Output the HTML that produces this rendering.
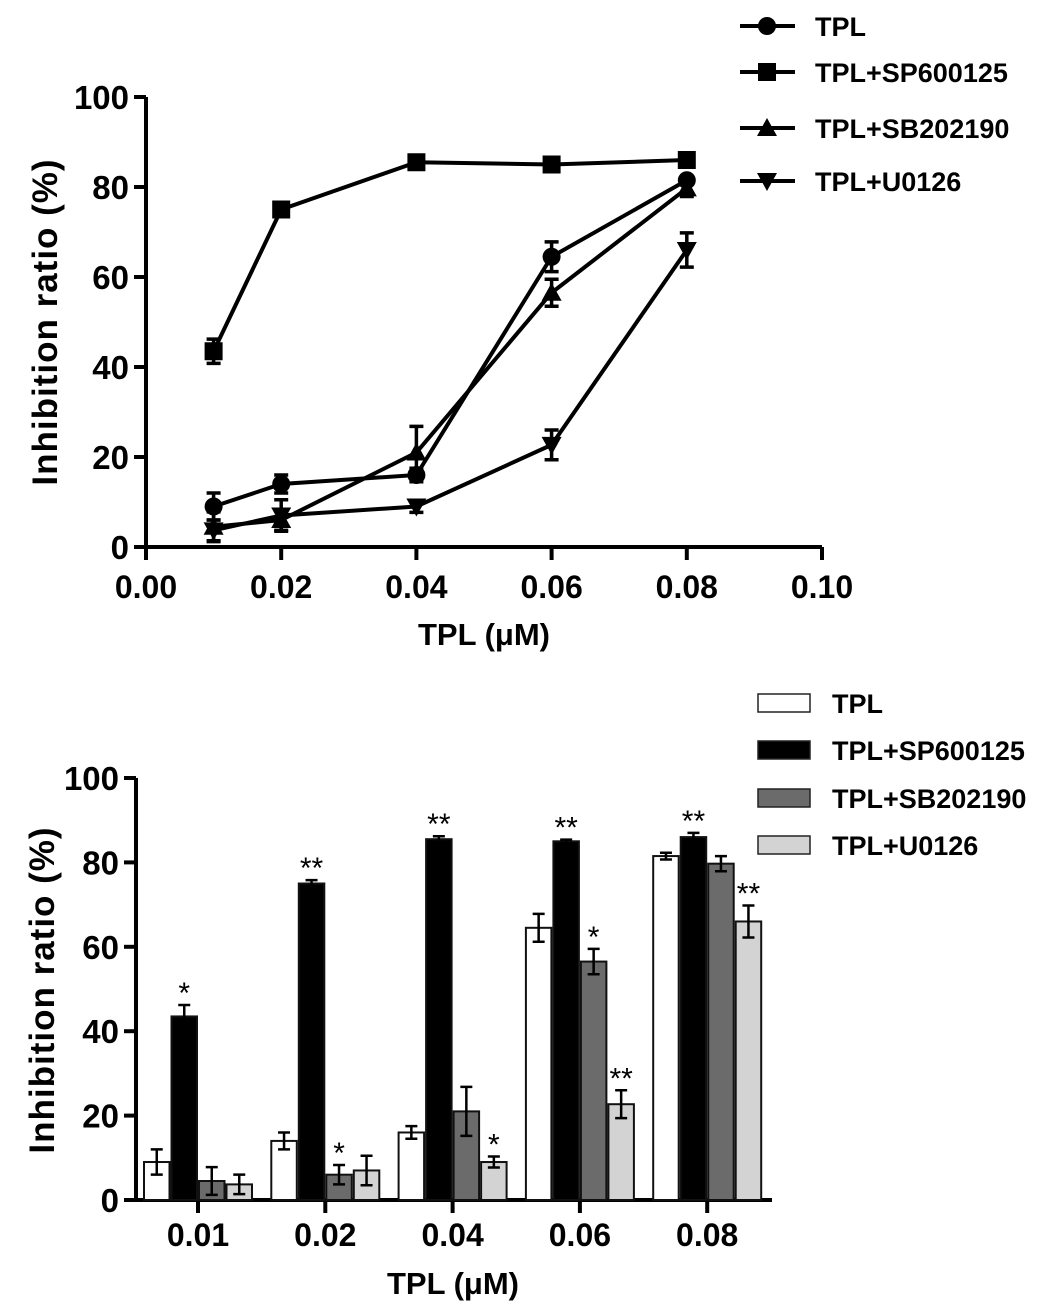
<!DOCTYPE html>
<html><head><meta charset="utf-8"><style>
html,body{margin:0;padding:0;background:#fff;}
svg{display:block;font-family:"Liberation Sans",sans-serif;font-weight:bold;}
</style></head><body>
<svg width="1063" height="1312" viewBox="0 0 1063 1312">
<g id="topChart"></g>
<g id="botChart"></g>
</svg>
<script>
const doses = [0.01, 0.02, 0.04, 0.06, 0.08];
const doseLabels = ["0.01","0.02","0.04","0.06","0.08"];
const seriesNames = ["TPL","TPL+SP600125","TPL+SB202190","TPL+U0126"];
const tplVals = [9, 14, 16, 64.5, 81.5];
const tplErr = [3, 2, 1.5, 3.3, 0.8];
const spVals = [43.5, 75, 85.5, 85, 86];
const spErr = [2.7, 0.8, 0.7, 0.4, 1];
const sbVals = [4.5, 6, 21, 56.5, 79.7];
const sbErr = [3.3, 2.3, 5.8, 3, 1.8];
const uVals = [3.7, 7, 9, 22.7, 66];
const uErr = [2.3, 3.5, 1.3, 3.3, 3.8];
const spStars = ["*","**","**","**","**"];
const sbStars = ["","*","","*",""];
const uStars = ["","","*","**","**"];
const yTicks = [0,20,40,60,80,100];
const xTicksTop = [0,0.02,0.04,0.06,0.08,0.10];
const xTickLabelsTop = ["0.00","0.02","0.04","0.06","0.08","0.10"];

const NS="http://www.w3.org/2000/svg";
function mk(parent,tag,attrs,text){const e=document.createElementNS(NS,tag);for(const k in attrs)e.setAttribute(k,attrs[k]);if(text!==undefined)e.textContent=text;parent.appendChild(e);return e;}

const vals=[tplVals,spVals,sbVals,uVals], errs=[tplErr,spErr,sbErr,uErr];

// ---- TOP line chart
const gTop=document.getElementById('topChart');
const tx=v=>146+(v/0.10)*(822-146);
const ty=v=>547-(v/100)*(547-97);
let ax=mk(gTop,'path',{d:`M146,97 L146,547 L822,547`,stroke:'#000','stroke-width':4,fill:'none'});


yTicks.forEach(t=>{
  mk(gTop,'line',{x1:134,x2:146,y1:ty(t),y2:ty(t),stroke:'#000','stroke-width':4});
  const l=mk(gTop,'text',{x:129,y:ty(t)+12,'text-anchor':'end','font-size':33},t);
  
  
});
xTicksTop.forEach((t,i)=>{
  mk(gTop,'line',{x1:tx(t),x2:tx(t),y1:547,y2:560,stroke:'#000','stroke-width':4});
  const l=mk(gTop,'text',{x:tx(t),y:598,'text-anchor':'middle','font-size':32},xTickLabelsTop[i]);
  
  
});
let t1=mk(gTop,'text',{x:484,y:645,'text-anchor':'middle','font-size':31},'TPL (μM)');


let t2=mk(gTop,'text',{x:0,y:0,'text-anchor':'middle','font-size':35,transform:'translate(57,322) rotate(-90)','letter-spacing':'1'},'Inhibition  ratio (%)');



function marker(g,k,x,y){
  if(k===0) return mk(g,'circle',{cx:x,cy:y,r:9,fill:'#000'});
  if(k===1) return mk(g,'rect',{x:x-9,y:y-9,width:18,height:18,fill:'#000'});
  if(k===2) return mk(g,'path',{d:`M${x},${y-10} L${x+10},${y+8} L${x-10},${y+8}Z`,fill:'#000'});
  return mk(g,'path',{d:`M${x},${y+10} L${x+10},${y-8} L${x-10},${y-8}Z`,fill:'#000'});
}
vals.forEach((vs,k)=>{
  const g=mk(gTop,'g',{});
  
  
  mk(g,'polyline',{points:vs.map((v,i)=>tx(doses[i])+','+ty(v)).join(' '),fill:'none',stroke:'#000','stroke-width':4});
  vs.forEach((v,i)=>{
    const x=tx(doses[i]),e=errs[k][i];
    mk(g,'path',{d:`M${x},${ty(v+e)} V${ty(v-e)} M${x-7},${ty(v+e)} H${x+7} M${x-7},${ty(v-e)} H${x+7}`,stroke:'#000','stroke-width':3.5,fill:'none'});
    const m=marker(g,k,x,ty(v));
    
    
  });
});
const legY=[26,72,128,181];
seriesNames.forEach((n,k)=>{
  const g=mk(gTop,'g',{});
  
  
  mk(g,'line',{x1:740,x2:795,y1:legY[k],y2:legY[k],stroke:'#000','stroke-width':4});
  marker(g,k,767,legY[k]);
  mk(g,'text',{x:815,y:legY[k]+10,'font-size':27},n);
});

// ---- BOTTOM bar chart
const gBot=document.getElementById('botChart');
const by=v=>1200-(v/100)*(1200-778);
const gx=i=>198+i*127.3;
const bw=27.5;
const fills=['#fff','#000','#6b6b6b','#d3d3d3'];
let ax2=mk(gBot,'path',{d:`M136,778 L136,1200 L772,1200`,stroke:'#000','stroke-width':4,fill:'none'});


yTicks.forEach(t=>{
  mk(gBot,'line',{x1:124,x2:136,y1:by(t),y2:by(t),stroke:'#000','stroke-width':4});
  const l=mk(gBot,'text',{x:119,y:by(t)+12,'text-anchor':'end','font-size':33},t);
  
  
});
doseLabels.forEach((d,i)=>{
  mk(gBot,'line',{x1:gx(i),x2:gx(i),y1:1200,y2:1213,stroke:'#000','stroke-width':4});
  const l=mk(gBot,'text',{x:gx(i),y:1246,'text-anchor':'middle','font-size':32},d);
  
  
});
let t3=mk(gBot,'text',{x:453,y:1294,'text-anchor':'middle','font-size':31},'TPL (μM)');


let t4=mk(gBot,'text',{x:0,y:0,'text-anchor':'middle','font-size':35,transform:'translate(54,990) rotate(-90)','letter-spacing':'1'},'Inhibition  ratio (%)');


const stars=[[],spStars,sbStars,uStars];
vals.forEach((vs,k)=>{
  vs.forEach((v,i)=>{
    const x0=gx(i)-2*bw+k*bw, xc=x0+bw/2, e=errs[k][i];
    const r=mk(gBot,'rect',{x:x0+1,y:by(v),width:bw-2,height:by(0)-by(v),fill:fills[k],stroke:'#111','stroke-width':2});
    
    
    mk(gBot,'path',{d:`M${xc},${by(v+e)} V${by(v-e)} M${xc-6},${by(v+e)} H${xc+6} M${xc-6},${by(v-e)} H${xc+6}`,stroke:'#000','stroke-width':2.5,fill:'none'});
    const s=stars[k][i];
    if(s){
      const st=mk(gBot,'text',{x:xc,y:by(v+e)+4,'text-anchor':'middle','font-size':30,'font-weight':'normal'},s);
      st.setAttribute('y',by(v+e)-2);
      
      
    }
  });
});
const leg2=[703,750,798,845];
seriesNames.forEach((n,k)=>{
  const g=mk(gBot,'g',{});
  
  
  mk(g,'rect',{x:758,y:leg2[k]-9,width:52,height:18,fill:fills[k],stroke:'#222','stroke-width':1.5});
  mk(g,'text',{x:832,y:leg2[k]+10,'font-size':27},n);
});
</script>
</body></html>
